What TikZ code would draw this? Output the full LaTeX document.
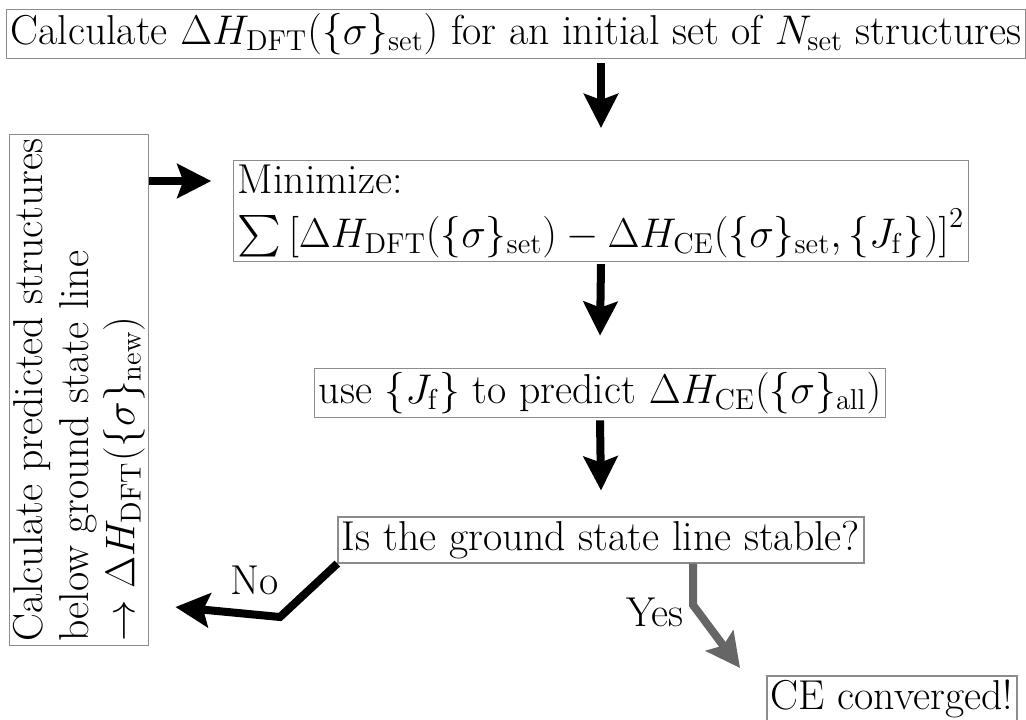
\documentclass[tikz,border=0pt]{standalone}
\usepackage{exscale}
\usetikzlibrary{arrows.meta}
\begin{document}
\begin{tikzpicture}[x=0.5pt,y=-0.5pt,
  box/.style={draw=black!45,line width=0.6pt,inner sep=2pt,font=\fontsize{20.9}{23}\selectfont},
  arr/.style={line width=4pt,-{Stealth[length=17pt,width=17pt,inset=3pt]}},
  arrgray/.style={arr,color=black!60},
  lab/.style={font=\fontsize{20.9}{23}\selectfont}]
\useasboundingbox (0,0) rectangle (1026,719);
\node[box] (top) at (516,34) {Calculate $\Delta H_{\mathrm{DFT}}(\{\sigma\}_{\mathrm{set}})$ for an initial set of $N_{\mathrm{set}}$ structures};
\node[box,align=left] (min) at (601,211) {Minimize:\\[4pt] $\sum\left[\Delta H_{\mathrm{DFT}}(\{\sigma\}_{\mathrm{set}}) - \Delta H_{\mathrm{CE}}(\{\sigma\}_{\mathrm{set}},\{J_{\mathrm{f}}\})\right]^2$};
\node[box] (use) at (600,393) {use $\{J_{\mathrm{f}}\}$ to predict $\Delta H_{\mathrm{CE}}(\{\sigma\}_{\mathrm{all}})$};
\node[box] (gs) at (601,540) {Is the ground state line stable?};
\node[box] (ce) at (892,699) {CE converged!};
\node[box,rotate=90,align=left] (left) at (79,390) {Calculate predicted structures\\ below ground state line\\ $\rightarrow \Delta H_{\mathrm{DFT}}(\{\sigma\}_{\mathrm{new}})$};
\coordinate (noelbow) at (280,617);
\coordinate (yeselbow) at (693,605);
\coordinate (yesend) at (740,668);
\draw[arr] ([yshift=-2pt]top.south -| min.north) -- ([yshift=16pt]min.north);
\draw[arr] ([yshift=-1pt]min.south) -- ([yshift=16pt]use.north);
\draw[arr] ([yshift=-1pt]use.south) -- ([yshift=13pt]gs.north);
\draw[arr] (left.south |- 0,181) -- ([xshift=-11pt]min.west |- 0,181);
\draw[arr] (gs.south west) -- (noelbow) -- ([xshift=13pt]left.south |- 0,607);
\draw[arrgray] (gs.south -| yeselbow) -- (yeselbow) -- (yesend);
\node[lab] (no) at (255,580) {No};
\node[lab] (yes) at (655,612) {Yes};
\end{tikzpicture}
\end{document}
